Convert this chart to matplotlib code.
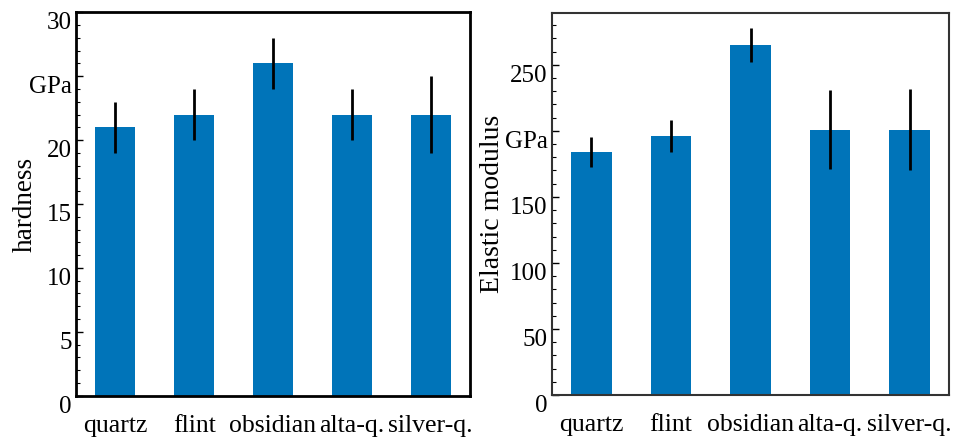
import matplotlib
matplotlib.use("Agg")
import matplotlib.pyplot as plt
from matplotlib.ticker import MultipleLocator
import numpy as np

plt.rcParams['font.family'] = ['Liberation Serif', 'DejaVu Serif']

materials = ['quartz', 'flint', 'obsidian', 'alta-q.', 'silver-q.']
hardness = [21, 22, 26, 22, 22]
hardness_err = [2, 2, 2, 2, 3]
modulus = [184, 196, 265, 201, 201]
modulus_err = [11, 12, 13, 30, 31]

hard_ticks = [0, 5, 10, 15, 20, 25, 30]
hard_labels = ['0', '5', '10', '15', '20', 'GPa', '30']
mod_ticks = [0, 50, 100, 150, 200, 250]
mod_labels = ['0', '50', '100', '150', 'GPa', '250']

bar_color = '#0074B9'
x = np.arange(1, len(materials) + 1)

fig = plt.figure(figsize=(9.62, 4.37), dpi=100)
ax1 = fig.add_axes([0.079, 0.0945, 0.4096, 0.8774])
ax2 = fig.add_axes([0.5735, 0.0961, 0.4133, 0.8735])


def style_axes(ax, frame_color, frame_width, ticks, labels, minor_step):
    for side in ax.spines.values():
        side.set_color(frame_color)
        side.set_linewidth(frame_width)
    ax.set_xlim(0.5, 5.5)
    ax.set_xticks(x, materials, fontsize=18.5)
    ax.set_yticks(ticks, labels, fontsize=18, va='top')
    ax.yaxis.set_minor_locator(MultipleLocator(minor_step))
    ax.tick_params(axis='x', length=0, pad=14)
    ax.tick_params(axis='y', which='major', direction='in', length=5,
                   width=1, pad=3)
    ax.tick_params(axis='y', which='minor', direction='in', length=3, width=0.8)


# hardness
ax1.bar(x, hardness, width=0.51, color=bar_color, zorder=2)
ax1.errorbar(x, hardness, yerr=hardness_err, fmt='none', ecolor='black',
             elinewidth=2, capsize=0, zorder=3)
ax1.set_ylim(0, 30)
ax1.set_ylabel('hardness', fontsize=19.5)
ax1.yaxis.set_label_coords(-0.097, 0.5)
style_axes(ax1, 'black', 2.0, hard_ticks, hard_labels, 1)

# elastic modulus
ax2.bar(x, modulus, width=0.51, color=bar_color, zorder=2)
ax2.errorbar(x, modulus, yerr=modulus_err, fmt='none', ecolor='black',
             elinewidth=2, capsize=0, zorder=3)
ax2.set_ylim(0, 289)
ax2.set_ylabel('Elastic modulus', fontsize=20)
ax2.yaxis.set_label_coords(-0.117, 0.5)
style_axes(ax2, '#333333', 1.5, mod_ticks, mod_labels, 10)

fig.savefig('out.png', dpi=100)
